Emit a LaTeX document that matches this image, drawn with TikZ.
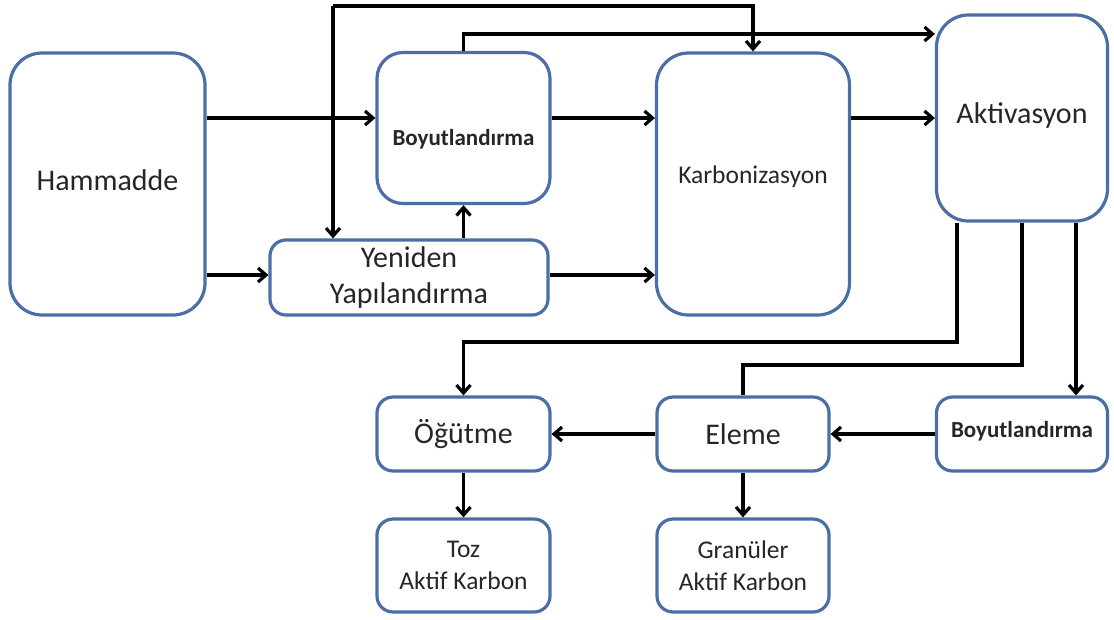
\documentclass[tikz,border=0pt]{standalone}
\usepackage{fontspec}
\setmainfont{Carlito}
\usepackage{xcolor}
\usepackage{tikz}
\usetikzlibrary{arrows.meta}
\definecolor{kutu_mavi}{HTML}{4A6FA5}
\definecolor{yazi_gri}{HTML}{262626}
\newcommand{\asagi}[2]{\raisebox{0pt}[\dimexpr\height+#1\relax][\depth]{#2}}
\newcommand{\yukari}[2]{\raisebox{0pt}[\height][\dimexpr\depth+#1\relax]{#2}}

\begin{document}
\begin{tikzpicture}[x=1pt, y=-1pt,
    >={Straight Barb[length=8pt,width=14pt]},
    ok/.style = {draw=black, line width=3.2pt},
    kutu/.style = {draw=kutu_mavi, line width=3.2pt, rounded corners=#1,
      text=yazi_gri, align=center, inner sep=0pt},
    kutu/.default = 16pt,
    buyuk/.style = {font=\fontsize{30}{36}\selectfont},
    orta/.style = {font=\fontsize{25.5}{32}\selectfont},
    kalin/.style = {font=\fontsize{23}{27}\selectfont\bfseries}]
      \useasboundingbox (0,0) rectangle (1114,619);

      \node[kutu=32pt, buyuk, minimum width=195pt, minimum height=262pt] (ham) at (107.5,184) {\yukari{8pt}{Hammadde}};
      \node[kutu=26pt, kalin, minimum width=173pt, minimum height=151pt] (boy1) at (463.5,128) {\asagi{22pt}{Boyutlandırma}};
      \node[kutu, buyuk, minimum width=278pt, minimum height=75pt] (yen) at (409,277.5) {\yukari{4pt}{Yeniden}\\Yapılandırma};
      \node[kutu=32pt, orta, minimum width=193pt, minimum height=262pt] (kar) at (753,184) {\yukari{14pt}{Karbonizasyon}};
      \node[kutu=32pt, buyuk, minimum width=171pt, minimum height=206pt] (akt) at (1022,118) {\yukari{6pt}{Aktivasyon}};

      \node[kutu, buyuk, minimum width=173pt, minimum height=74pt] (ogu) at (463.5,434) {Öğütme};
      \node[kutu, buyuk, minimum width=172pt, minimum height=74pt] (ele) at (743,434) {Eleme};
      \node[kutu, kalin, minimum width=171pt, minimum height=74pt] (boy2) at (1022,434) {\yukari{6pt}{Boyutlandırma}};
      \node[kutu, orta, minimum width=173pt, minimum height=93pt] (toz) at (463.5,565.5) {Toz\\Aktif Karbon};
      \node[kutu, orta, minimum width=172pt, minimum height=93pt] (gra) at (743,565.5) {Granüler\\Aktif Karbon};

      \coordinate (tepe) at (333,6);
      \coordinate (kol) at (937,34);
      \coordinate (alt) at (0,275);
      \coordinate (d1) at (957,342);
      \coordinate (d2) at (1022,365);
      \coordinate (d3) at (1076,380);

      \draw[->, ok] (ham.east |- akt.west) -- (boy1.west |- akt.west);
      \draw[->, ok] (ham.east |- alt) -- (yen.west |- alt);
      \draw[->, ok] (yen.north -| boy1.south) -- (boy1.south);
      \draw[->, ok] (boy1.east |- akt.west) -- (kar.west |- akt.west);
      \draw[->, ok] (yen.east |- alt) -- (kar.west |- alt);
      \draw[->, ok] (kar.east |- akt.west) -- (akt.west);

      \draw[->, ok] (tepe) -- (tepe |- yen.north);
      \draw[->, ok] (tepe) -| (kar.north);
      \draw[->, ok] (boy1.north) |- (akt.west |- kol);

      \draw[->, ok] (akt.south -| d1) -- (d1) -| (ogu.north);
      \draw[ok] (akt.south) -- (d2) -| (ele.north);
      \draw[->, ok] (akt.south -| d3) -- (boy2.north -| d3);

      \draw[->, ok] (boy2.west) -- (ele.east);
      \draw[->, ok] (ele.west) -- (ogu.east);
      \draw[->, ok] (ogu.south) -- (toz.north);
      \draw[->, ok] (ele.south) -- (gra.north);
    \end{tikzpicture}
\end{document}
